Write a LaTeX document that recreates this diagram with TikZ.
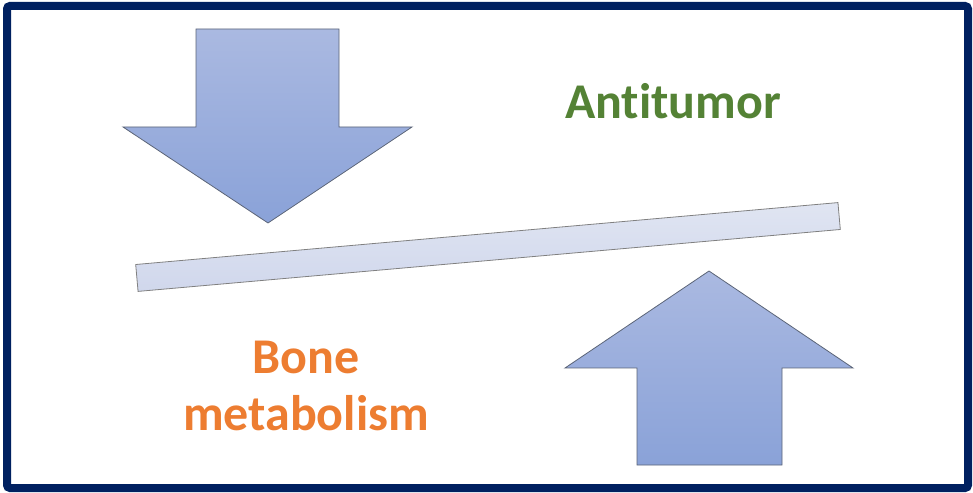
\documentclass[tikz,border=0pt]{standalone}
\usepackage{fontspec}
\setmainfont[Ligatures={NoCommon}]{Carlito}
\usepackage{tikz}
\usetikzlibrary{positioning}
\definecolor{frameblue}{HTML}{002060}
\definecolor{arrowtop}{HTML}{AAB9E1}
\definecolor{arrowbot}{HTML}{8AA2D8}
\definecolor{arrowline}{HTML}{5B6477}
\definecolor{bartop}{HTML}{E0E5F2}
\definecolor{barbot}{HTML}{D0D7EC}
\definecolor{tumorgreen}{HTML}{548235}
\definecolor{boneorange}{HTML}{ED7D31}
\tikzset{
  frame/.style={draw=frameblue, line width=8pt, rounded corners=3pt},
  bigarrow/.style={draw=arrowline, line width=0.8pt, top color=arrowtop, bottom color=arrowbot, line join=miter},
  lever/.style={draw=black!50, line width=0.8pt, top color=bartop, bottom color=barbot, minimum width=705pt, minimum height=27pt, inner sep=0pt},
  label/.style={font=\fontsize{50}{57}\selectfont\bfseries, align=center, inner sep=0pt}
}

\begin{document}
\begin{tikzpicture}[x=1pt,y=1pt]
  \useasboundingbox (0,0) rectangle (973,492);
  \draw[frame] (7,4) rectangle (968,486);
  % down arrow
  \draw[bigarrow] (196,463) -- (339,463) -- (339,365) -- (412,365) -- (268,269)
    -- (123,365) -- (196,365) -- cycle;
  % up arrow
  \draw[bigarrow] (637,27) -- (782,27) -- (782,124) -- (853,124) -- (709,221)
    -- (565,124) -- (637,124) -- cycle;
  % tilted bar
  \node[lever, rotate=5.04] (bar) at (488,245) {};
  % labels
  \node[label, text=tumorgreen, anchor=base] (tumor) at (673,373) {Antitumor};
  \node[label, text=boneorange] (bone) at (306,106) {Bone\\metabolism};
\end{tikzpicture}
\end{document}
